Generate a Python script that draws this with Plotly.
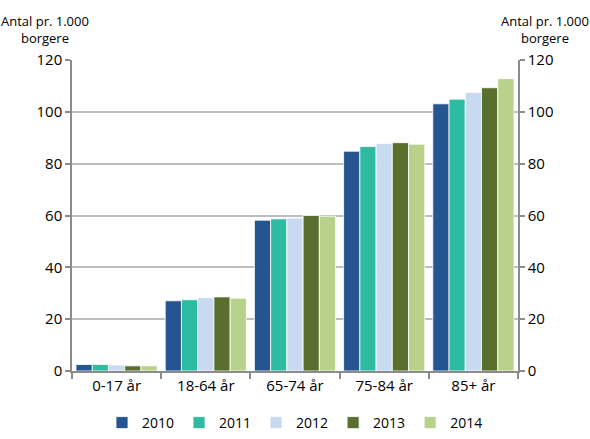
import plotly.graph_objects as go

# Age groups and yearly rates (per 1,000 citizens)
categories = ["0-17 år", "18-64 år", "65-74 år", "75-84 år", "85+ år"]
years = ["2010", "2011", "2012", "2013", "2014"]
v2010 = [2.5, 27.1, 58.2, 84.8, 103.1]
v2011 = [2.5, 27.5, 58.7, 86.6, 104.9]
v2012 = [2.3, 28.3, 59.0, 87.8, 107.5]
v2013 = [2.0, 28.6, 60.0, 88.1, 109.3]
v2014 = [2.0, 28.1, 59.7, 87.5, 112.8]
series = [v2010, v2011, v2012, v2013, v2014]
colors = ["#255590", "#2FBBA2", "#C8DAF0", "#5A6F2D", "#B9D28B"]

FONT = "Open Sans"
fig = go.Figure()
for year, vals, col in zip(years, series, colors):
    fig.add_trace(go.Bar(
        x=categories, y=vals, name=year,
        marker=dict(color=col, line=dict(color="white", width=0.8)),
    ))

# invisible trace so the secondary axis is drawn
fig.add_trace(go.Scatter(x=categories, y=[None] * 5, yaxis="y2",
                         showlegend=False, hoverinfo="skip"))

axis_col = "#8C8C8C"
fig.update_layout(
    width=590, height=439,
    margin=dict(l=72, r=72, t=60, b=68),
    paper_bgcolor="white", plot_bgcolor="white",
    barmode="group", bargap=0.09, bargroupgap=0,
    font=dict(family=FONT, size=15, color="#000000"),
    xaxis=dict(
        showline=True, linecolor=axis_col, linewidth=1.5,
        ticks="outside", tickson="boundaries", ticklen=6,
        tickcolor=axis_col, tickwidth=1.5,
        tickfont=dict(size=15),
    ),
    yaxis=dict(
        range=[0, 120], dtick=20, showgrid=True, gridcolor="#BDBDBD",
        gridwidth=1.5, showline=True, linecolor=axis_col, linewidth=1.5,
        ticks="outside", ticklen=5, tickcolor=axis_col, tickwidth=1.5,
        zeroline=False, tickfont=dict(size=15),
    ),
    yaxis2=dict(
        range=[0, 120], dtick=20, overlaying="y", side="right",
        showgrid=False, showline=True, linecolor=axis_col, linewidth=1.5,
        ticks="outside", ticklen=5, tickcolor=axis_col, tickwidth=1.5,
        zeroline=False, tickfont=dict(size=15),
    ),
    legend=dict(
        orientation="h", x=0.5, xanchor="center",
        yref="container", y=-0.005, yanchor="bottom",
        font=dict(size=14), itemwidth=30,
        traceorder="normal", tracegroupgap=0,
    ),
    annotations=[
        dict(text="Antal pr. 1.000<br>borgere", x=-0.06, y=1.035,
             xref="paper", yref="paper", xanchor="center", yanchor="bottom",
             showarrow=False, font=dict(size=13)),
        dict(text="Antal pr. 1.000<br>borgere", x=1.06, y=1.035,
             xref="paper", yref="paper", xanchor="center", yanchor="bottom",
             showarrow=False, font=dict(size=13)),
    ],
)

fig.write_html("out.html")
